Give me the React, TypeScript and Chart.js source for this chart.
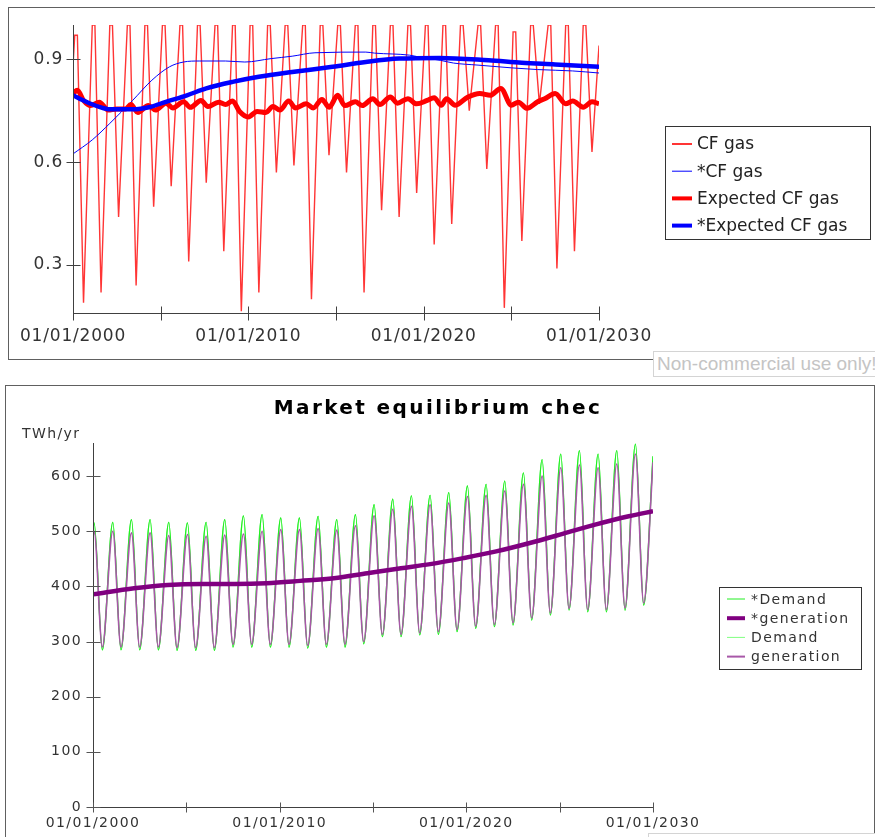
import React, { useEffect, useRef } from "react";
import { Chart, registerables } from "chart.js";

Chart.register(...registerables);

// ---------------- axes / tick labels ----------------
const X_TICK_YEARS = [2000, 2005, 2010, 2015, 2020, 2025, 2030];
const X_LABEL_YEARS = [2000, 2010, 2020, 2030];
const TOP_Y_TICKS = [0.3, 0.6, 0.9];
const BOTTOM_Y_TICKS = [0, 100, 200, 300, 400, 500, 600];

// ---------------- top chart: CF gas ----------------
const CF_GAS_START = 0.88;
// plateau value reached each year (year 2000 .. 2029)
const CF_GAS_TOPS = [
  0.97, 1, 1, 1, 1, 1, 1, 1, 1, 1,
  1, 1, 1, 1, 1, 1, 1, 1, 1, 1,
  1, 1, 1, 1, 1, 0.98, 1, 1, 1, 1,
];
// seasonal minimum each year (year 2000 .. 2029)
const CF_GAS_DIPS = [
  0.19, 0.22, 0.44, 0.24, 0.47, 0.53, 0.31, 0.54, 0.34, 0.165,
  0.22, 0.57, 0.59, 0.2, 0.62, 0.57, 0.22, 0.46, 0.44, 0.51,
  0.36, 0.42, 0.75, 0.58, 0.175, 0.37, 0.77, 0.29, 0.34, 0.63,
];
const CF_GAS_END = 0.94;

const STAR_CF_GAS_YEARS = [
  2000, 2001.1, 2002.1, 2003.4, 2004.5, 2005.5, 2006.3, 2007.2, 2008.7, 2009.8,
  2011.3, 2012.5, 2013.8, 2016.7, 2017.2, 2019.2, 2019.8, 2020.95, 2021.7, 2023.1,
  2025.0, 2026.5, 2028.5, 2030,
];
const STAR_CF_GAS = [
  0.624, 0.665, 0.713, 0.78, 0.839, 0.878, 0.892, 0.895, 0.895, 0.892,
  0.902, 0.909, 0.919, 0.921, 0.918, 0.912, 0.906, 0.897, 0.889, 0.883,
  0.875, 0.87, 0.866, 0.86,
];

const EXP_CF_GAS_YEARS = [
  2000, 2000.25, 2000.6, 2001.0, 2001.5, 2002.0, 2002.5, 2003.0, 2003.3, 2003.7,
  2004.3, 2004.7, 2005.3, 2005.7, 2006.3, 2006.7, 2007.3, 2007.7, 2008.3, 2008.7,
  2009.1, 2009.5, 2010.0, 2010.5, 2011.0, 2011.4, 2011.8, 2012.3, 2012.7, 2013.3,
  2013.7, 2014.2, 2014.6, 2015.1, 2015.5, 2016.1, 2016.5, 2017.1, 2017.5, 2018.1,
  2018.5, 2019.1, 2019.6, 2020.2, 2020.6, 2021.0, 2021.3, 2021.8, 2022.5, 2023.2,
  2023.8, 2024.4, 2025.0, 2025.4, 2025.9, 2026.5, 2026.9, 2027.5, 2028.1, 2028.5,
  2029.1, 2029.6, 2030,
];
const EXP_CF_GAS = [
  0.8, 0.81, 0.78, 0.765, 0.775, 0.752, 0.755, 0.755, 0.768, 0.745,
  0.765, 0.752, 0.772, 0.758, 0.776, 0.76, 0.78, 0.762, 0.775, 0.768,
  0.778, 0.748, 0.732, 0.748, 0.745, 0.762, 0.752, 0.778, 0.758, 0.77,
  0.758, 0.783, 0.76, 0.795, 0.765, 0.776, 0.765, 0.785, 0.768, 0.79,
  0.772, 0.785, 0.77, 0.78, 0.788, 0.766, 0.785, 0.766, 0.789, 0.8,
  0.795, 0.815, 0.766, 0.775, 0.757, 0.776, 0.785, 0.8, 0.77, 0.778,
  0.76, 0.776, 0.77,
];

const STAR_EXP_CF_GAS_YEARS = [
  2000, 2000.75, 2001.5, 2002.1, 2003.4, 2004.4, 2005.3, 2006.5, 2007.6, 2009.1,
  2010.6, 2012.5, 2014.8, 2016.7, 2018.6, 2020.9, 2023.7, 2025.6, 2027.5, 2030,
];
const STAR_EXP_CF_GAS = [
  0.795, 0.776, 0.761, 0.754, 0.754, 0.761, 0.776, 0.795, 0.815, 0.834,
  0.849, 0.863, 0.878, 0.892, 0.902, 0.904, 0.897, 0.89, 0.885, 0.878,
];

// ---------------- bottom chart: market equilibrium ----------------
const DEMAND_START = 505;
const DEMAND_PEAKS = [
  515, 516, 521, 521, 516, 515, 516, 521, 528, 530,
  524, 524, 527, 521, 530, 548, 558, 564, 565, 570,
  582, 585, 591, 606, 630, 640, 646, 640, 646, 658,
];
const DEMAND_TROUGHS = [
  285, 285, 285, 285, 284, 284, 284, 290, 290, 290,
  290, 288, 290, 290, 296, 309, 309, 312, 313, 318,
  324, 327, 330, 339, 348, 357, 354, 354, 357, 366,
];
const DEMAND_END = 636;

const GEN_START = 490;
const GEN_PEAKS = [
  500, 500, 497, 497, 492, 494, 491, 493, 495, 500,
  503, 503, 505, 502, 510, 528, 540, 545, 548, 551,
  563, 565, 573, 585, 600, 615, 620, 615, 622, 640,
];
const GEN_TROUGHS = [
  290, 290, 290, 290, 289, 289, 289, 295, 295, 295,
  295, 293, 295, 295, 300, 313, 313, 316, 318, 322,
  328, 331, 334, 343, 352, 360, 358, 358, 361, 370,
];
const GEN_END = 625;

const STAR_GEN_YEARS = [
  2000, 2002.2, 2004.0, 2005.8, 2007.6, 2009.3, 2011.1, 2012.9, 2014.7, 2016.5,
  2018.06, 2019.84, 2021.6, 2023.4, 2025.2, 2026.9, 2028.7, 2030,
];
const STAR_GEN = [
  385.7, 396.6, 402.7, 404.5, 404.5, 405.8, 410, 414.9, 424, 433,
  440.4, 451.3, 463.4, 478.6, 495.6, 512, 527.2, 536.3,
];

// ---------------- helpers ----------------
const pairs = (xs: number[], ys: number[]) => xs.map((x, i) => ({ x, y: ys[i] }));

function cfGasPoints() {
  const pts = [{ x: 2000, y: CF_GAS_START }];
  CF_GAS_DIPS.forEach((dip, k) => {
    const yr = 2000 + k;
    pts.push({ x: yr + 0.1, y: CF_GAS_TOPS[k] });
    pts.push({ x: yr + 0.25, y: CF_GAS_TOPS[k] });
    pts.push({ x: yr + 0.6, y: dip });
  });
  pts.push({ x: 2030, y: CF_GAS_END });
  return pts;
}

function seasonalPoints(start: number, peaks: number[], troughs: number[], end: number) {
  const pts = [{ x: 2000, y: start }];
  peaks.forEach((p, k) => {
    pts.push({ x: 2000 + k + 0.06, y: p });
    pts.push({ x: 2000 + k + 0.5, y: troughs[k] });
  });
  pts.push({ x: 2030, y: end });
  return pts;
}

const FONT = "'DejaVu Sans', Verdana, sans-serif";

// ---------------- plugins ----------------
const spacingPlugin = {
  id: "spacing",
  beforeDraw(chart: any, _a: any, o: any) {
    chart.ctx.letterSpacing = o.ls || "0px";
  },
  beforeDatasetsDraw(chart: any) {
    chart.ctx.letterSpacing = "0px";
  },
};

const crossTicksPlugin = {
  id: "crossTicks",
  afterDatasetsDraw(chart: any, _a: any, o: any) {
    const { ctx, chartArea: a, scales } = chart;
    const xs = scales.x;
    const ys = scales.y;
    ctx.save();
    ctx.letterSpacing = "0px";
    ctx.lineWidth = 1;
    ctx.strokeStyle = o.axisColor;
    const lx = Math.round(a.left) + 0.5;
    const by = Math.round(a.bottom) + 0.5;
    ctx.beginPath();
    ctx.moveTo(lx, a.top);
    ctx.lineTo(lx, by);
    ctx.lineTo(a.right, by);
    ctx.stroke();
    ctx.strokeStyle = o.tickColor;
    ctx.beginPath();
    xs.ticks.forEach((t: any) => {
      const px = Math.round(xs.getPixelForValue(t.value)) + 0.5;
      ctx.moveTo(px, by - o.xHalf);
      ctx.lineTo(px, by + o.xHalf);
    });
    ys.ticks.forEach((t: any) => {
      const py = Math.round(ys.getPixelForValue(t.value)) + 0.5;
      ctx.moveTo(lx - o.yHalf, py);
      ctx.lineTo(lx + o.yHalf, py);
    });
    ctx.stroke();
    ctx.restore();
  },
};

const boxLegendPlugin = {
  id: "boxLegend",
  afterDraw(chart: any, _a: any, o: any) {
    const ctx = chart.ctx;
    ctx.save();
    ctx.letterSpacing = o.ls || "0px";
    ctx.fillStyle = "#ffffff";
    ctx.fillRect(o.x, o.y, o.w, o.h);
    ctx.strokeStyle = o.borderColor;
    ctx.lineWidth = 1;
    ctx.strokeRect(o.x + 0.5, o.y + 0.5, o.w, o.h);
    ctx.font = `${o.fontSize}px ${FONT}`;
    ctx.textBaseline = "middle";
    ctx.textAlign = "left";
    chart.data.datasets.forEach((ds: any, i: number) => {
      const cy = o.y + o.firstY + i * o.step;
      ctx.strokeStyle = ds.borderColor;
      ctx.lineWidth = o.swatchWidths[i];
      ctx.beginPath();
      ctx.moveTo(o.x + o.swX0, cy);
      ctx.lineTo(o.x + o.swX1, cy);
      ctx.stroke();
      ctx.fillStyle = o.textColor;
      ctx.fillText(ds.label, o.x + o.textX, cy + 1);
    });
    ctx.restore();
  },
};

const textsPlugin = {
  id: "texts",
  afterDraw(chart: any, _a: any, o: any) {
    const ctx = chart.ctx;
    ctx.save();
    (o.items || []).forEach((it: any) => {
      ctx.letterSpacing = it.ls || "0px";
      ctx.font = it.font;
      ctx.fillStyle = it.color;
      ctx.textAlign = it.align;
      ctx.textBaseline = "alphabetic";
      ctx.fillText(it.text, it.x, it.y);
    });
    ctx.restore();
  },
};

function xScale(fontSize: number, pad: number, height: number) {
  return {
    type: "linear",
    min: 2000,
    max: 2030,
    grid: { display: false, drawTicks: false },
    border: { display: false },
    afterBuildTicks: (s: any) => {
      s.ticks = X_TICK_YEARS.map((v) => ({ value: v }));
    },
    afterFit: (s: any) => {
      s.height = height;
    },
    ticks: {
      autoSkip: false,
      maxRotation: 0,
      padding: pad,
      color: "#333333",
      font: { family: FONT, size: fontSize },
      callback: (v: any) => (X_LABEL_YEARS.includes(Number(v)) ? "01/01/" + v : ""),
    },
  };
}

function topConfig(): any {
  return {
    type: "line",
    data: {
      datasets: [
        {
          label: "CF gas",
          data: cfGasPoints(),
          borderColor: "#ff3535",
          borderWidth: 1.4,
          pointRadius: 0,
          tension: 0,
          order: 4,
        },
        {
          label: "*CF gas",
          data: pairs(STAR_CF_GAS_YEARS, STAR_CF_GAS),
          borderColor: "#0000ff",
          borderWidth: 1,
          pointRadius: 0,
          cubicInterpolationMode: "monotone",
          order: 3,
        },
        {
          label: "Expected CF gas",
          data: pairs(EXP_CF_GAS_YEARS, EXP_CF_GAS),
          borderColor: "#ff0000",
          borderWidth: 5,
          pointRadius: 0,
          cubicInterpolationMode: "monotone",
          order: 2,
        },
        {
          label: "*Expected CF gas",
          data: pairs(STAR_EXP_CF_GAS_YEARS, STAR_EXP_CF_GAS),
          borderColor: "#0000ff",
          borderWidth: 4.5,
          pointRadius: 0,
          cubicInterpolationMode: "monotone",
          order: 1,
        },
      ],
    },
    options: {
      responsive: false,
      animation: false,
      devicePixelRatio: 1,
      events: [],
      layout: { padding: { left: 0, top: 25, right: 276, bottom: 0 } },
      scales: {
        x: xScale(17, 13, 67),
        y: {
          type: "linear",
          min: 0.16,
          max: 1.0,
          grid: { display: false, drawTicks: false },
          border: { display: false },
          afterBuildTicks: (s: any) => {
            s.ticks = TOP_Y_TICKS.map((v) => ({ value: v }));
          },
          afterFit: (s: any) => {
            s.width = 73;
          },
          ticks: {
            padding: 10,
            color: "#333333",
            font: { family: FONT, size: 17 },
            callback: (v: any) => Number(v).toFixed(1),
          },
        },
      },
      plugins: {
        legend: { display: false },
        tooltip: { enabled: false },
        title: { display: false },
        spacing: { ls: "0.8px" },
        crossTicks: { axisColor: "#404040", tickColor: "#404040", xHalf: 7, yHalf: 7 },
        boxLegend: {
          x: 665,
          y: 126,
          w: 205,
          h: 113,
          firstY: 18,
          step: 27.2,
          swX0: 7,
          swX1: 27,
          textX: 32,
          fontSize: 17,
          textColor: "#222222",
          borderColor: "#333333",
          swatchWidths: [2, 1, 4, 4],
        },
        texts: { items: [] },
      },
    },
    plugins: [spacingPlugin, crossTicksPlugin, boxLegendPlugin, textsPlugin],
  };
}

function bottomConfig(): any {
  return {
    type: "line",
    data: {
      datasets: [
        {
          label: "*Demand",
          data: seasonalPoints(DEMAND_START, DEMAND_PEAKS, DEMAND_TROUGHS, DEMAND_END),
          borderColor: "#22ee22",
          borderWidth: 1.3,
          pointRadius: 0,
          cubicInterpolationMode: "monotone",
          order: 3,
        },
        {
          label: "*generation",
          data: pairs(STAR_GEN_YEARS, STAR_GEN),
          borderColor: "#800080",
          borderWidth: 4.5,
          pointRadius: 0,
          cubicInterpolationMode: "monotone",
          order: 1,
        },
        {
          label: "Demand",
          data: seasonalPoints(DEMAND_START, DEMAND_PEAKS, DEMAND_TROUGHS, DEMAND_END),
          borderColor: "#80ff80",
          borderWidth: 1.3,
          pointRadius: 0,
          cubicInterpolationMode: "monotone",
          order: 4,
        },
        {
          label: "generation",
          data: seasonalPoints(GEN_START, GEN_PEAKS, GEN_TROUGHS, GEN_END),
          borderColor: "#a858a8",
          borderWidth: 1.6,
          pointRadius: 0,
          cubicInterpolationMode: "monotone",
          order: 2,
        },
      ],
    },
    options: {
      responsive: false,
      animation: false,
      devicePixelRatio: 1,
      events: [],
      layout: { padding: { left: 0, top: 63, right: 222, bottom: 0 } },
      scales: {
        x: xScale(14, 8, 30),
        y: {
          type: "linear",
          min: 0,
          max: 660,
          grid: { display: false, drawTicks: false },
          border: { display: false },
          afterBuildTicks: (s: any) => {
            s.ticks = BOTTOM_Y_TICKS.map((v) => ({ value: v }));
          },
          afterFit: (s: any) => {
            s.width = 93;
          },
          ticks: {
            padding: 11,
            color: "#333333",
            font: { family: FONT, size: 14 },
            callback: (v: any) => String(v),
          },
        },
      },
      plugins: {
        legend: { display: false },
        tooltip: { enabled: false },
        title: { display: false },
        spacing: { ls: "1.4px" },
        crossTicks: { axisColor: "#404040", tickColor: "#555555", xHalf: 5, yHalf: 7 },
        boxLegend: {
          x: 719,
          y: 207,
          w: 142,
          h: 82,
          firstY: 12,
          step: 19.2,
          swX0: 8,
          swX1: 26,
          textX: 32,
          fontSize: 14,
          ls: "1.4px",
          textColor: "#333333",
          borderColor: "#333333",
          swatchWidths: [1, 4, 1, 2],
        },
        texts: {
          items: [
            {
              text: "Market equilibrium chec",
              x: 438,
              y: 34,
              align: "center",
              font: `bold 20px ${FONT}`,
              color: "#000000",
              ls: "2.4px",
            },
            {
              text: "TWh/yr",
              x: 22,
              y: 58,
              align: "left",
              font: `14px ${FONT}`,
              color: "#333333",
              ls: "1.4px",
            },
          ],
        },
      },
    },
    plugins: [spacingPlugin, crossTicksPlugin, boxLegendPlugin, textsPlugin],
  };
}

const watermarkStyle: any = {
  position: "absolute",
  width: 240,
  height: 26,
  boxSizing: "border-box",
  border: "1px solid #d4d4d4",
  background: "#ffffff",
  color: "#c4c4c4",
  fontFamily: "'Liberation Sans', Arial, sans-serif",
  fontSize: 19,
  lineHeight: "24px",
  paddingLeft: 3,
  whiteSpace: "nowrap",
  zIndex: 3,
};

export default function App() {
  const topRef = useRef<HTMLCanvasElement>(null);
  const botRef = useRef<HTMLCanvasElement>(null);

  useEffect(() => {
    const c1 = new Chart(topRef.current as HTMLCanvasElement, topConfig());
    const c2 = new Chart(botRef.current as HTMLCanvasElement, bottomConfig());
    return () => {
      c1.destroy();
      c2.destroy();
    };
  }, []);

  return (
    <div
      style={{
        position: "absolute",
        left: 0,
        top: 0,
        width: 875,
        height: 837,
        overflow: "hidden",
        background: "#ffffff",
      }}
    >
      <div
        style={{
          position: "absolute",
          left: 8,
          top: 7,
          width: 880,
          height: 353,
          boxSizing: "border-box",
          border: "1px solid #606060",
        }}
      />
      <div
        style={{
          position: "absolute",
          left: 5,
          top: 385,
          width: 870,
          height: 470,
          boxSizing: "border-box",
          border: "1px solid #606060",
        }}
      />
      <canvas
        ref={topRef}
        width={875}
        height={380}
        style={{ position: "absolute", left: 0, top: 0, zIndex: 1 }}
      />
      <canvas
        ref={botRef}
        width={875}
        height={457}
        style={{ position: "absolute", left: 0, top: 380, zIndex: 1 }}
      />
      <div style={{ ...watermarkStyle, left: 653, top: 351 }}>Non-commercial use only!</div>
      <div style={{ ...watermarkStyle, left: 648, top: 833 }}>Non-commercial use only!</div>
    </div>
  );
}
